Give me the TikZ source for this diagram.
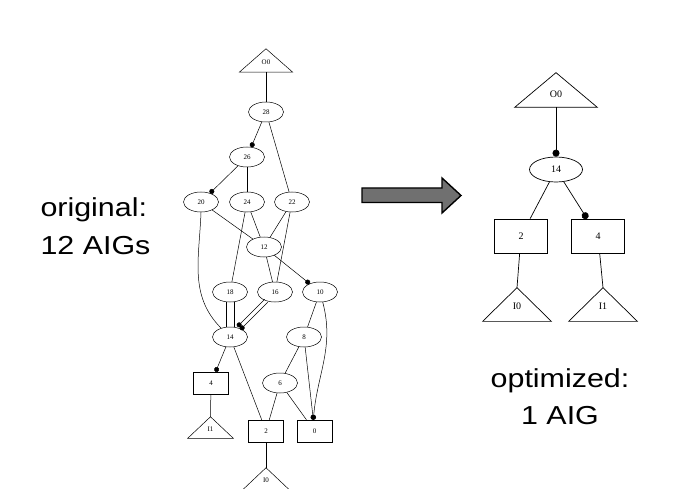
\documentclass[tikz,border=0pt]{standalone}
\usepackage{fontspec}
\setmainfont{Liberation Serif}
\newfontfamily\labelfont{Liberation Sans}
\usetikzlibrary{positioning}
\usetikzlibrary{shapes.geometric}
\usetikzlibrary{arrows.meta}
\definecolor{arrowgray}{RGB}{112,112,112}
\newcommand{\wide}[1]{\scalebox{1.17}[1]{#1}}

\begin{document}
\begin{tikzpicture}[x=1pt,y=1pt,
    aig/.style={draw,ellipse,minimum width=35pt,minimum height=20pt,inner sep=0pt},
    gate/.style={draw,rectangle,minimum width=35pt,minimum height=22pt,inner sep=0pt},
    tri/.style={minimum width=45pt,minimum height=21pt,inner sep=0pt,text height=8pt,text depth=0pt},
    inv/.style={-{Circle[length=5pt]}},
    caption/.style={font=\labelfont\fontsize{26}{37}\selectfont}]
  \useasboundingbox (0,0) rectangle (685,-489);

  % original graph
  \begin{scope}[line width=0.5pt,font=\fontsize{7}{8}\selectfont]
    \node[tri,minimum width=53pt,minimum height=23pt] (lo0) at (266,-60.5) {O0};
    \node[aig] (n28) at (266,-112) {28};
    \node[aig] (n26) at (247,-157) {26};
    \node[aig] (n20) at (201,-202) {20};
    \node[aig] (n24) at (247,-202) {24};
    \node[aig] (n22) at (292,-202) {22};
    \node[aig] (n12) at (264,-247) {12};
    \node[aig] (n18) at (230,-292) {18};
    \node[aig] (n16) at (275,-292) {16};
    \node[aig] (n10) at (320,-292) {10};
    \node[aig] (n14) at (230,-337) {14};
    \node[aig] (n8) at (304,-337) {8};
    \node[gate] (n4) at (211,-383) {4};
    \node[aig] (n6) at (280,-383) {6};
    \node[tri] (li1) at (210.5,-427.5) {I1};
    \node[gate] (n2) at (266,-431) {2};
    \node[gate] (n0) at (314.5,-431) {0};
    \node[tri] (li0) at (266,-478.5) {I0};
    \foreach \t in {lo0,li1,li0}
      \draw (\t.south west) -- (\t.south east) -- (\t.north) -- cycle;

    \draw (lo0.south) -- (n28);
    \draw[inv] (n28) -- (n26);
    \draw (n28) -- (n22);
    \draw[inv] (n26) -- (n20);
    \draw (n26) -- (n24);
    \draw (n20) -- (n12);
    \draw (n20.south) to[out=-92,in=135] (n14);
    \draw (n24) -- (n12);
    \draw (n24) -- (n18);
    \draw (n22) -- (n12);
    \draw (n22) -- (n16);
    \draw (n12) -- (n16);
    \draw[inv] (n12) -- (n10);
    \draw[transform canvas={xshift=-4pt}] (n18) -- (n14);
    \draw[transform canvas={xshift=4pt}] (n18) -- (n14);
    \draw[inv,transform canvas={xshift=1.5pt,yshift=-1.5pt}] (n16) -- (n14);
    \draw[inv,transform canvas={xshift=-1.5pt,yshift=1.5pt}] (n16) -- (n14);
    \draw (n10) -- (n8);
    \draw[inv] (n10) to[out=-75,in=85] (n0.96);
    \draw[inv] (n14) -- (n4);
    \draw (n14) -- (n2);
    \draw (n8) -- (n6);
    \draw[inv] (n8) -- (n0.96);
    \draw (n6) -- (n2);
    \draw (n6) -- (n0);
    \draw (n4) -- (li1.north);
    \draw (n2) -- (li0.north);
  \end{scope}

  % optimized graph
  \begin{scope}[line width=0.7pt,font=\fontsize{10}{11}\selectfont,
      inv/.style={-{Circle[length=7pt]}}]
    \node[tri,minimum width=82pt,minimum height=34pt,text height=16pt] (ro0) at (556,-90) {O0};
    \node[aig,minimum width=53pt,minimum height=25pt] (r14) at (556,-169.5) {14};
    \node[gate,minimum width=53pt,minimum height=34pt] (r2) at (521,-236) {2};
    \node[gate,minimum width=53pt,minimum height=34pt] (r4) at (598,-236) {4};
    \node[tri,minimum width=68pt,minimum height=33pt,text height=10pt] (ri0) at (517,-304.5) {I0};
    \node[tri,minimum width=68pt,minimum height=33pt,text height=10pt] (ri1) at (603,-304.5) {I1};
    \foreach \t in {ro0,ri0,ri1}
      \draw (\t.south west) -- (\t.south east) -- (\t.north) -- cycle;

    \draw[inv] (ro0.south) -- (r14);
    \draw (r14) -- (r2);
    \draw[inv] (r14) -- (r4);
    \draw (r2) -- (ri0.north);
    \draw (r4) -- (ri1.north);
  \end{scope}

  % big arrow
  \draw[line width=1.4pt,fill=arrowgray] (362,-188) -- (442,-188) -- (442,-178) -- (461,-195.5)
    -- (442,-213) -- (442,-202.5) -- (362,-202.5) -- cycle;

  \node[caption,anchor=base west,align=left] (orig) at (37,-254) {\wide{original:}\\\wide{12 AIGs}};
  \node[caption,anchor=base,align=center] (opt) at (560,-424) {\wide{optimized:}\\\wide{1 AIG}};
\end{tikzpicture}
\end{document}
